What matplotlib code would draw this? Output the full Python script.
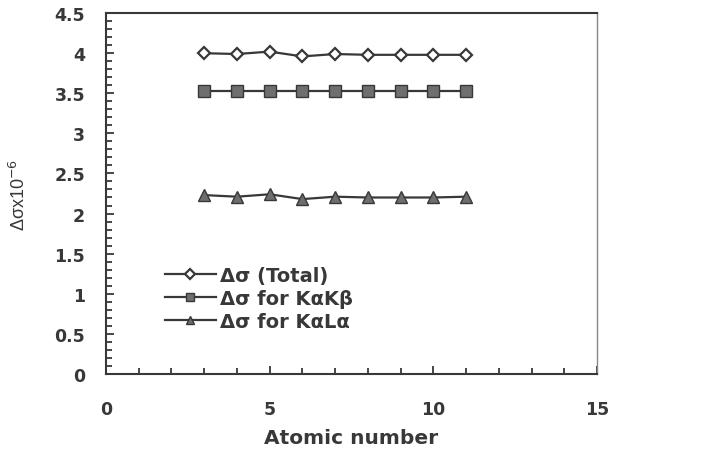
import matplotlib
matplotlib.use('Agg')
import matplotlib.pyplot as plt
from matplotlib.ticker import MultipleLocator, FuncFormatter

# atomic numbers and cross-section differences (x10^-6)
z = [3, 4, 5, 6, 7, 8, 9, 10, 11]
ds_total = [4.00, 3.99, 4.02, 3.96, 3.99, 3.98, 3.98, 3.98, 3.98]
ds_kakb = [3.53, 3.53, 3.53, 3.53, 3.53, 3.53, 3.53, 3.53, 3.53]
ds_kala = [2.23, 2.21, 2.24, 2.18, 2.21, 2.20, 2.20, 2.20, 2.21]

plt.rcParams['font.family'] = ['DejaVu Sans']
ink = '#383838'

fig = plt.figure(figsize=(7.01, 4.56), dpi=100)
ax = fig.add_axes([0.151, 0.178, 0.701, 0.791])

ax.plot(z, ds_total, color=ink, lw=1.6, marker='D', ms=6.5, mfc='white',
        mec=ink, mew=1.6, label='Δσ (Total)')
ax.plot(z, ds_kakb, color=ink, lw=1.6, marker='s', ms=8, mfc='#6e6e6e',
        mec=ink, mew=1.0, label='Δσ for KαKβ')
ax.plot(z, ds_kala, color=ink, lw=1.6, marker='^', ms=8.5, mfc='#6e6e6e',
        mec=ink, mew=1.0, label='Δσ for KαLα')

ax.set_xlim(0, 15)
ax.set_ylim(0, 4.5)
ax.xaxis.set_major_locator(MultipleLocator(5))
ax.xaxis.set_minor_locator(MultipleLocator(1))
ax.yaxis.set_major_locator(MultipleLocator(0.5))
ax.yaxis.set_minor_locator(MultipleLocator(0.1))
ax.yaxis.set_major_formatter(FuncFormatter(lambda v, p: f'{v:g}'))

ax.tick_params(which='both', direction='in', top=False, right=False,
               colors=ink, width=1.3)
ax.tick_params(which='major', length=6, labelsize=12.5)
ax.tick_params(axis='x', which='major', pad=19)
ax.tick_params(axis='y', which='major', pad=15)
ax.tick_params(which='minor', length=4)
for lab in ax.get_xticklabels() + ax.get_yticklabels():
    lab.set_fontweight('bold')
for sp in ax.spines.values():
    sp.set_color(ink)
    sp.set_linewidth(1.5)
ax.spines['right'].set_linewidth(1.0)
ax.spines['right'].set_color('#888888')

ax.set_xlabel('Atomic number', fontsize=14.5, fontweight='bold', color=ink,
              labelpad=7)
ax.set_ylabel('Δσx10$^{-6}$', fontsize=13, color=ink, labelpad=18,
              family=['Liberation Sans', 'DejaVu Sans'])

ax.legend(loc='lower left', bbox_to_anchor=(0.085, 0.07), frameon=False,
          prop={'weight': 'bold', 'size': 14}, markerscale=0.75,
          handlelength=2.6, handletextpad=0.2, labelspacing=0.2,
          labelcolor=ink)

fig.savefig('out.png', dpi=100)
